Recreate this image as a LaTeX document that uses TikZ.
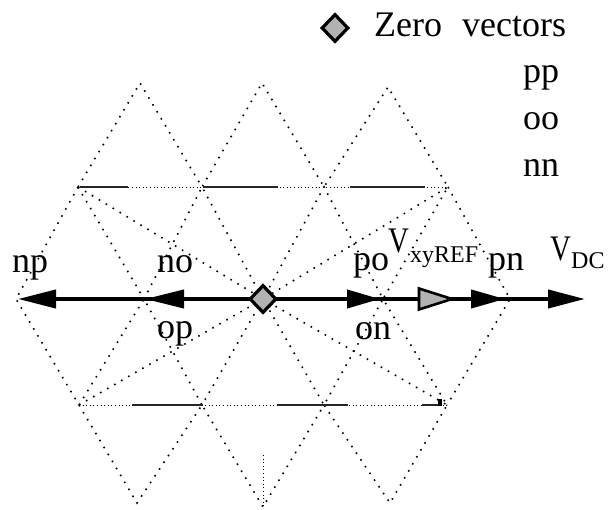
\documentclass[tikz,border=0pt]{standalone}
\usepackage{fontspec}
\setmainfont{Liberation Serif}
\usetikzlibrary{arrows.meta,shapes.geometric}
\begin{document}
\begin{tikzpicture}[x=1pt,y=-1pt,
  gridline/.style={line width=1.6pt, dash pattern=on 1.6pt off 6.5pt},
  fineline/.style={line width=0.8pt, dash pattern=on 0.8pt off 2.8pt},
  boldseg/.style={line width=2pt, black!85},
  axisline/.style={line width=4pt},
  lbl/.style={inner sep=0pt, anchor=base west, font=\fontsize{36}{40}\selectfont},
  sublbl/.style={inner sep=0pt, anchor=base west, font=\fontsize{24}{28}\selectfont},
  zerov/.style={diamond, draw=black, line width=3.2pt, fill=gray!60, inner sep=0pt, minimum width=27pt, minimum height=28pt},
  blacktip/.style={-{Triangle[length=#1, width=18pt]}},
  reftip/.style={draw=black, line width=2.6pt, fill=gray!60, line join=miter},
]
\useasboundingbox (0,0) rectangle (609,510);

% lattice points
\coordinate (T1) at (140,83);
\coordinate (T2) at (262,83);
\coordinate (T3) at (388,87);
\coordinate (U0) at (78,187);
\coordinate (U1) at (202,187);
\coordinate (U2) at (324,187);
\coordinate (U3) at (448,187);
\coordinate (M0) at (16,299);
\coordinate (M1) at (144,299);
\coordinate (C)  at (263,299);
\coordinate (M3) at (383,299);
\coordinate (M4) at (510,299);
\coordinate (L0) at (79,405);
\coordinate (L1) at (202,405);
\coordinate (L2) at (324,405);
\coordinate (L3) at (447,405);
\coordinate (B1) at (137,503);
\coordinate (B2) at (263,507);
\coordinate (B3) at (390,503);
\coordinate (V1) at (263,455);

% dotted grid
\draw[gridline] (U0) -- (T1) -- (U1) -- (T2) -- (U2) -- (T3) -- (U3);
\draw[gridline] (U0) -- (M0) -- (L0);
\draw[gridline] (U3) -- (M4) -- (L3);
\draw[gridline] (L0) -- (B1) -- (L1) -- (B2) -- (L2) -- (B3) -- (L3);
\draw[gridline] (U0) -- (M1) -- (U1) -- (C) -- (U2) -- (M3) -- (U3);
\draw[gridline] (L0) -- (M1) -- (L1) -- (C) -- (L2) -- (M3) -- (L3);
\draw[gridline] (U0) -- (C) -- (U3);
\draw[gridline] (L0) -- (C) -- (L3);
\draw[fineline] (V1) -- (B2);

% horizontal lines
\draw[fineline] (U0) -- (U3);
\draw[boldseg] (80,187) -- (128,187);
\draw[boldseg] (203,187) -- (278,187);
\draw[boldseg] (350,187) -- (425,187);
\draw[fineline] (L0) -- (L3);
\draw[boldseg] (132,405) -- (203,405);
\draw[boldseg] (277,405) -- (348,405);
\draw[boldseg] (422,405) -- (439,405);
\fill (438,399) rectangle (442,406);

% axis arrows
\coordinate (aDC)  at (585,299);
\coordinate (aPN)  at (505,299);
\coordinate (aREFb) at (419,299);
\coordinate (aREF) at (452,299);
\coordinate (aPO)  at (380,299);
\coordinate (aNP)  at (18,299);
\coordinate (aNO)  at (145,299);
\draw[axisline, blacktip=37pt] (C) -- (aDC);
\draw[axisline, blacktip=34pt] (C) -- (aPN);
\draw[reftip] ([yshift=-10.5pt]aREFb) -- (aREF) -- ([yshift=10.5pt]aREFb) -- cycle;
\draw[axisline, blacktip=33pt] (C) -- (aPO);
\draw[axisline, blacktip=38pt] (C) -- (aNP);
\draw[axisline, blacktip=39pt] (C) -- (aNO);

\node[zerov] (Z0) at (C) {};

% legend
\node[zerov] (Zleg) at (335,28) {};
\node[lbl] (zt) at (374,37) {Zero\hspace{11pt} vectors};
\node[lbl] (pp) at (523,83) {pp};
\node[lbl] (oo) at (523,130) {oo};
\node[lbl] (nn) at (523,177) {nn};

% axis labels
\node[lbl] (np) at (12,272) {np};
\node[lbl] (no) at (157,272) {no};
\node[lbl] (op) at (157,338) {op};
\node[lbl] (po) at (353,270) {po};
\node[lbl] (on) at (355,339) {on};
\node[lbl] (pn) at (488,270) {pn};
\node[lbl] (vref) at (388,252) {\scalebox{0.8}[1]{V}};
\node[sublbl] (vrefs) at (410,262) {xyREF};
\node[lbl] (vdc) at (550,260) {\scalebox{0.8}[1]{V}};
\node[sublbl] (vdcs) at (571,268) {DC};
\end{tikzpicture}
\end{document}
